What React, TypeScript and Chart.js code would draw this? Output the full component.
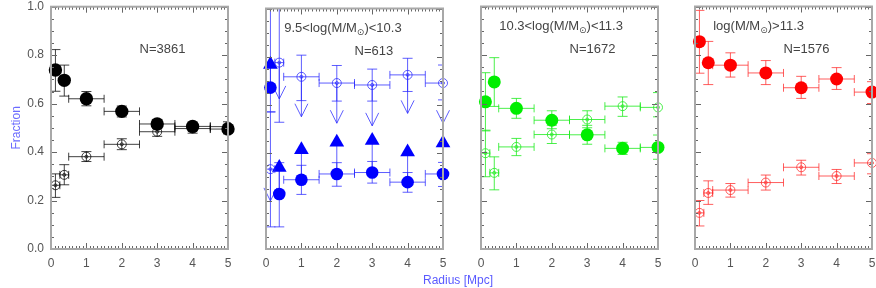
import React, { useEffect, useRef } from "react";
import { Chart, registerables } from "chart.js";

Chart.register(...registerables);

// ---------------- data ----------------
const radius = [0.125, 0.375, 1, 2, 3, 4, 5];
const binLo = [0, 0.25, 0.5, 1.5, 2.5, 3.5, 4.5];
const binHi = [0.25, 0.5, 1.5, 2.5, 3.5, 4.5, 5.5];
const xTickValues = [0, 1, 2, 3, 4, 5];
const yTickValues = [0, 0.2, 0.4, 0.6, 0.8, 1.0];

const panelLabels = ["", "9.5<log(M/M⊙)<10.3", "10.3<log(M/M⊙)<11.3", "log(M/M⊙)>11.3"];
const panelCounts = ["N=3861", "N=613", "N=1672", "N=1576"];

// panel 1 : all masses
const allFilled = [0.739, 0.696, 0.62, 0.568, 0.516, 0.506, 0.495];
const allFilledLo = [0.651, 0.631, 0.591, 0.545, 0.497, 0.488, 0.475];
const allFilledHi = [0.823, 0.759, 0.65, 0.59, 0.535, 0.524, 0.515];
const allOpen = [0.263, 0.306, 0.381, 0.432, 0.484, 0.497, 0.505];
const allOpenLo = [0.213, 0.265, 0.361, 0.41, 0.465, 0.478, 0.485];
const allOpenHi = [0.31, 0.348, 0.402, 0.455, 0.503, 0.515, 0.525];

// panel 2 : 9.5 < log M < 10.3
const lowFilled = [0.671, 0.229, 0.288, 0.312, 0.318, 0.278, 0.312];
const lowFilledLo = [0.57, 0.092, 0.227, 0.261, 0.274, 0.236, 0.26];
const lowFilledHi = [1.2, 0.359, 0.348, 0.359, 0.364, 0.318, 0.36];
const lowUpLimit = [0.767, 0.339, 0.413, 0.444, 0.451, 0.403, 0.441];
const lowOpen = [0.332, 0.775, 0.716, 0.69, 0.682, 0.724, 0.69];
const lowOpenLo = [0.092, 0.527, 0.617, 0.615, 0.615, 0.655, 0.62];
const lowOpenHi = [0.57, 1.2, 0.806, 0.763, 0.748, 0.793, 0.765];
const lowDownLimit = [0.2, 0.624, 0.55, 0.523, 0.512, 0.564, 0.523];

// panel 3 : 10.3 < log M < 11.3
const midFilled = [0.607, 0.689, 0.58, 0.531, 0.471, 0.415, 0.419];
const midFilledLo = [0.487, 0.588, 0.539, 0.496, 0.432, 0.39, 0.37];
const midFilledHi = [0.727, 0.789, 0.621, 0.57, 0.51, 0.44, 0.47];
const midOpen = [0.395, 0.314, 0.421, 0.472, 0.534, 0.589, 0.584];
const midOpenLo = [0.298, 0.244, 0.385, 0.435, 0.5, 0.547, 0.545];
const midOpenHi = [0.49, 0.38, 0.456, 0.51, 0.57, 0.627, 0.645];

// panel 4 : log M > 11.3
const highFilled = [0.855, 0.768, 0.758, 0.726, 0.665, 0.701, 0.647];
const highFilledLo = [0.725, 0.678, 0.709, 0.678, 0.621, 0.658, 0.6];
const highFilledHi = [0.984, 0.856, 0.809, 0.777, 0.712, 0.748, 0.69];
const highOpen = [0.149, 0.231, 0.243, 0.274, 0.337, 0.301, 0.355];
const highOpenLo = [0.095, 0.184, 0.214, 0.243, 0.305, 0.27, 0.31];
const highOpenHi = [0.2, 0.281, 0.27, 0.305, 0.366, 0.328, 0.393];

// ---------------- styling / layout ----------------
const FONT = "'Liberation Sans', 'DejaVu Sans', Arial, sans-serif";
const PLOT_W = 177;
const PLOT_TOP = 2;
const PLOT_BOTTOM = 249;
const H = 288;

type PanelDef = {
  plotLeft: number;
  color: string;
  err: string;
  dot: number;
  filled: number[]; filledLo: number[]; filledHi: number[];
  open: number[]; openLo: number[]; openHi: number[];
  upTip?: number[]; downTip?: number[];
};

const panels: PanelDef[] = [
  { plotLeft: 51, color: "#000000", err: "rgba(0,0,0,0.75)", dot: 6.7,
    filled: allFilled, filledLo: allFilledLo, filledHi: allFilledHi,
    open: allOpen, openLo: allOpenLo, openHi: allOpenHi },
  { plotLeft: 266, color: "#0000ff", err: "rgba(40,40,255,0.75)", dot: 6.3,
    filled: lowFilled, filledLo: lowFilledLo, filledHi: lowFilledHi,
    open: lowOpen, openLo: lowOpenLo, openHi: lowOpenHi,
    upTip: lowUpLimit, downTip: lowDownLimit },
  { plotLeft: 481, color: "#00ee00", err: "rgba(30,235,30,0.8)", dot: 6.5,
    filled: midFilled, filledLo: midFilledLo, filledHi: midFilledHi,
    open: midOpen, openLo: midOpenLo, openHi: midOpenHi },
  { plotLeft: 695, color: "#ff0000", err: "rgba(255,40,40,0.75)", dot: 6.5,
    filled: highFilled, filledLo: highFilledLo, filledHi: highFilledHi,
    open: highOpen, openLo: highOpenLo, openHi: highOpenHi },
];

function drawRich(ctx: CanvasRenderingContext2D, text: string, x: number, y: number, size: number) {
  let cx = x;
  ctx.textAlign = "left";
  ctx.textBaseline = "middle";
  for (const part of text.split(/(⊙)/)) {
    if (!part) continue;
    if (part === "⊙") {
      ctx.font = `${Math.round(size * 0.7)}px ${FONT}`;
      ctx.fillText(part, cx, y + size * 0.3);
    } else {
      ctx.font = `${size}px ${FONT}`;
      ctx.fillText(part, cx, y);
    }
    cx += ctx.measureText(part).width;
  }
}

const errorPlugin = {
  id: "errorBars",
  beforeDatasetsDraw(chart: any) {
    const { ctx, chartArea: a, scales } = chart;
    const xs = scales.x, ys = scales.y;
    ctx.save();
    ctx.lineWidth = 1;
    // error bars, clipped to the plot window
    ctx.save();
    ctx.beginPath();
    ctx.rect(a.left, a.top, a.right - a.left, a.bottom - a.top);
    ctx.clip();
    chart.data.datasets.forEach((ds: any) => {
      const e = ds.errs;
      if (!e) return;
      ctx.strokeStyle = e.color;
      ds.data.forEach((p: any, i: number) => {
        const px = xs.getPixelForValue(p.x);
        const py = ys.getPixelForValue(p.y);
        const y1 = ys.getPixelForValue(e.lo[i]);
        const y2 = ys.getPixelForValue(e.hi[i]);
        const x1 = xs.getPixelForValue(e.xlo[i]);
        const x2 = xs.getPixelForValue(e.xhi[i]);
        ctx.beginPath();
        ctx.moveTo(px, y1); ctx.lineTo(px, y2);
        ctx.moveTo(px - 5, y1); ctx.lineTo(px + 5, y1);
        ctx.moveTo(px - 5, y2); ctx.lineTo(px + 5, y2);
        ctx.moveTo(x1, py); ctx.lineTo(x2, py);
        ctx.moveTo(x1, py - 4); ctx.lineTo(x1, py + 4);
        ctx.moveTo(x2, py - 4); ctx.lineTo(x2, py + 4);
        ctx.stroke();
      });
    });
    ctx.restore();
    // limit arrows
    chart.data.datasets.forEach((ds: any) => {
      const e = ds.errs;
      if (!e || !e.tip) return;
      ctx.strokeStyle = e.color;
      ds.data.forEach((p: any, i: number) => {
        const px = xs.getPixelForValue(p.x);
        const py = ys.getPixelForValue(p.y);
        const ty = ys.getPixelForValue(e.tip[i]);
        ctx.beginPath();
        ctx.moveTo(px, py); ctx.lineTo(px, ty);
        if (e.head === "v") {
          ctx.moveTo(px - 6.5, ty - 13); ctx.lineTo(px, ty); ctx.lineTo(px + 6.5, ty - 13);
        }
        ctx.stroke();
      });
    });
    ctx.restore();
  },
  afterDraw(chart: any) {
    const { ctx, chartArea: a, scales } = chart;
    const xs = scales.x, ys = scales.y;
    const idx = chart.options.plugins.errorBars.index;
    ctx.save();
    // ticks (inward)
    ctx.strokeStyle = "#666";
    ctx.lineWidth = 1;
    ctx.beginPath();
    for (let k = 0; k <= 50; k++) {
      const v = k / 10;
      const px = Math.round(xs.getPixelForValue(v)) + 0.5;
      const len = k % 10 === 0 ? 6 : 3;
      ctx.moveTo(px, a.bottom); ctx.lineTo(px, a.bottom - len);
      ctx.moveTo(px, a.top); ctx.lineTo(px, a.top + len);
    }
    for (let k = 0; k <= 20; k++) {
      const v = k / 20;
      const py = Math.round(ys.getPixelForValue(v)) + 0.5;
      const len = k % 4 === 0 ? 6 : 3;
      ctx.moveTo(a.left, py); ctx.lineTo(a.left + len, py);
      ctx.moveTo(a.right, py); ctx.lineTo(a.right - len, py);
    }
    ctx.stroke();
    // frame
    ctx.strokeStyle = "#a8a8a8";
    ctx.lineWidth = 2;
    ctx.strokeRect(a.left, a.top, a.right - a.left, a.bottom - a.top);
    // annotations
    ctx.fillStyle = "#444";
    const w = a.right - a.left, h = a.bottom - a.top;
    if (panelLabels[idx]) drawRich(ctx, panelLabels[idx], a.left + 0.103 * w, a.top + 0.084 * h, 13);
    drawRich(ctx, panelCounts[idx], a.left + 0.5 * w, a.top + 0.178 * h, 13);
    ctx.restore();
  },
};

function Panel({ def, index }: { def: PanelDef; index: number }) {
  const ref = useRef<HTMLCanvasElement>(null);
  const yw = index === 0 ? 51 : 10;
  const width = yw + PLOT_W + 10;
  const left = def.plotLeft - yw;

  useEffect(() => {
    const pts = (ys: number[]) => radius.map((x, i) => ({ x, y: ys[i] }));
    const datasets: any[] = [];
    datasets.push({
      label: "open", data: pts(def.open), pointStyle: "circle", pointRadius: 4.5,
      backgroundColor: "rgba(0,0,0,0)", borderColor: def.err, borderWidth: 1, showLine: false, clip: false,
      errs: { lo: def.openLo, hi: def.openHi, xlo: binLo, xhi: binHi, color: def.err, tip: def.downTip, head: "v" },
    });
    datasets.push({
      label: "open-dot", data: pts(def.open), pointStyle: "circle", pointRadius: 1.5,
      backgroundColor: "rgba(0,0,0,0)", borderColor: def.err, borderWidth: 1, showLine: false, clip: false,
    });
    if (def.upTip) {
      datasets.push({
        label: "lower-limit", data: pts(def.upTip), pointStyle: "triangle", pointRadius: 8.5,
        backgroundColor: def.color, borderColor: def.color, borderWidth: 0, showLine: false, clip: false,
      });
    }
    datasets.push({
      label: "filled", data: pts(def.filled), pointStyle: "circle", pointRadius: def.dot,
      backgroundColor: def.color, borderColor: def.color, borderWidth: 0, showLine: false, clip: false,
      errs: { lo: def.filledLo, hi: def.filledHi, xlo: binLo, xhi: binHi, color: def.err, tip: def.upTip, head: "none" },
    });

    const chart = new Chart(ref.current as HTMLCanvasElement, {
      type: "scatter",
      data: { datasets },
      options: {
        animation: false,
        responsive: false,
        devicePixelRatio: 1,
        events: [],
        layout: { padding: { top: PLOT_TOP, right: 10, left: 0, bottom: 0 } },
        plugins: {
          legend: { display: false },
          tooltip: { enabled: false },
          errorBars: { index },
        } as any,
        scales: {
          x: {
            type: "linear", min: 0, max: 5,
            afterBuildTicks: (s: any) => { s.ticks = xTickValues.map((v) => ({ value: v })); },
            ticks: { color: "#555", font: { family: FONT, size: 12 }, padding: 7, maxRotation: 0, autoSkip: false,
              callback: (v: any) => String(v) },
            grid: { display: false, drawTicks: false },
            border: { display: false },
            afterFit: (s: any) => { s.height = H - PLOT_BOTTOM; s.paddingLeft = 0; s.paddingRight = 0; },
          },
          y: {
            type: "linear", min: 0, max: 1,
            afterBuildTicks: (s: any) => { s.ticks = yTickValues.map((v) => ({ value: v })); },
            ticks: { display: index === 0, color: "#555", font: { family: FONT, size: 12 }, padding: 7,
              callback: (v: any) => Number(v).toFixed(1) },
            grid: { display: false, drawTicks: false },
            border: { display: false },
            title: index === 0
              ? { display: true, text: "Fraction", color: "#6b6bff", font: { family: FONT, size: 12 }, padding: { top: 9, bottom: 0 } }
              : { display: false },
            afterFit: (s: any) => { s.width = yw; s.paddingTop = 0; s.paddingBottom = 0; },
          },
        } as any,
      },
      plugins: [errorPlugin as any],
    });
    return () => chart.destroy();
  }, [def, index, yw]);

  return (
    <canvas
      ref={ref}
      width={width}
      height={H}
      style={{ position: "absolute", left, top: 0, width, height: H }}
    />
  );
}

export default function App() {
  return (
    <div style={{ position: "absolute", left: 0, top: 0, width: 876, height: H, background: "#fff", overflow: "hidden" }}>
      {panels.map((p, i) => (
        <Panel key={i} def={p} index={i} />
      ))}
      <div
        style={{
          position: "absolute", left: 423, top: 273, fontFamily: FONT, fontSize: 12,
          color: "#5a5aff", whiteSpace: "nowrap", lineHeight: "14px",
        }}
      >
        Radius [Mpc]
      </div>
    </div>
  );
}
